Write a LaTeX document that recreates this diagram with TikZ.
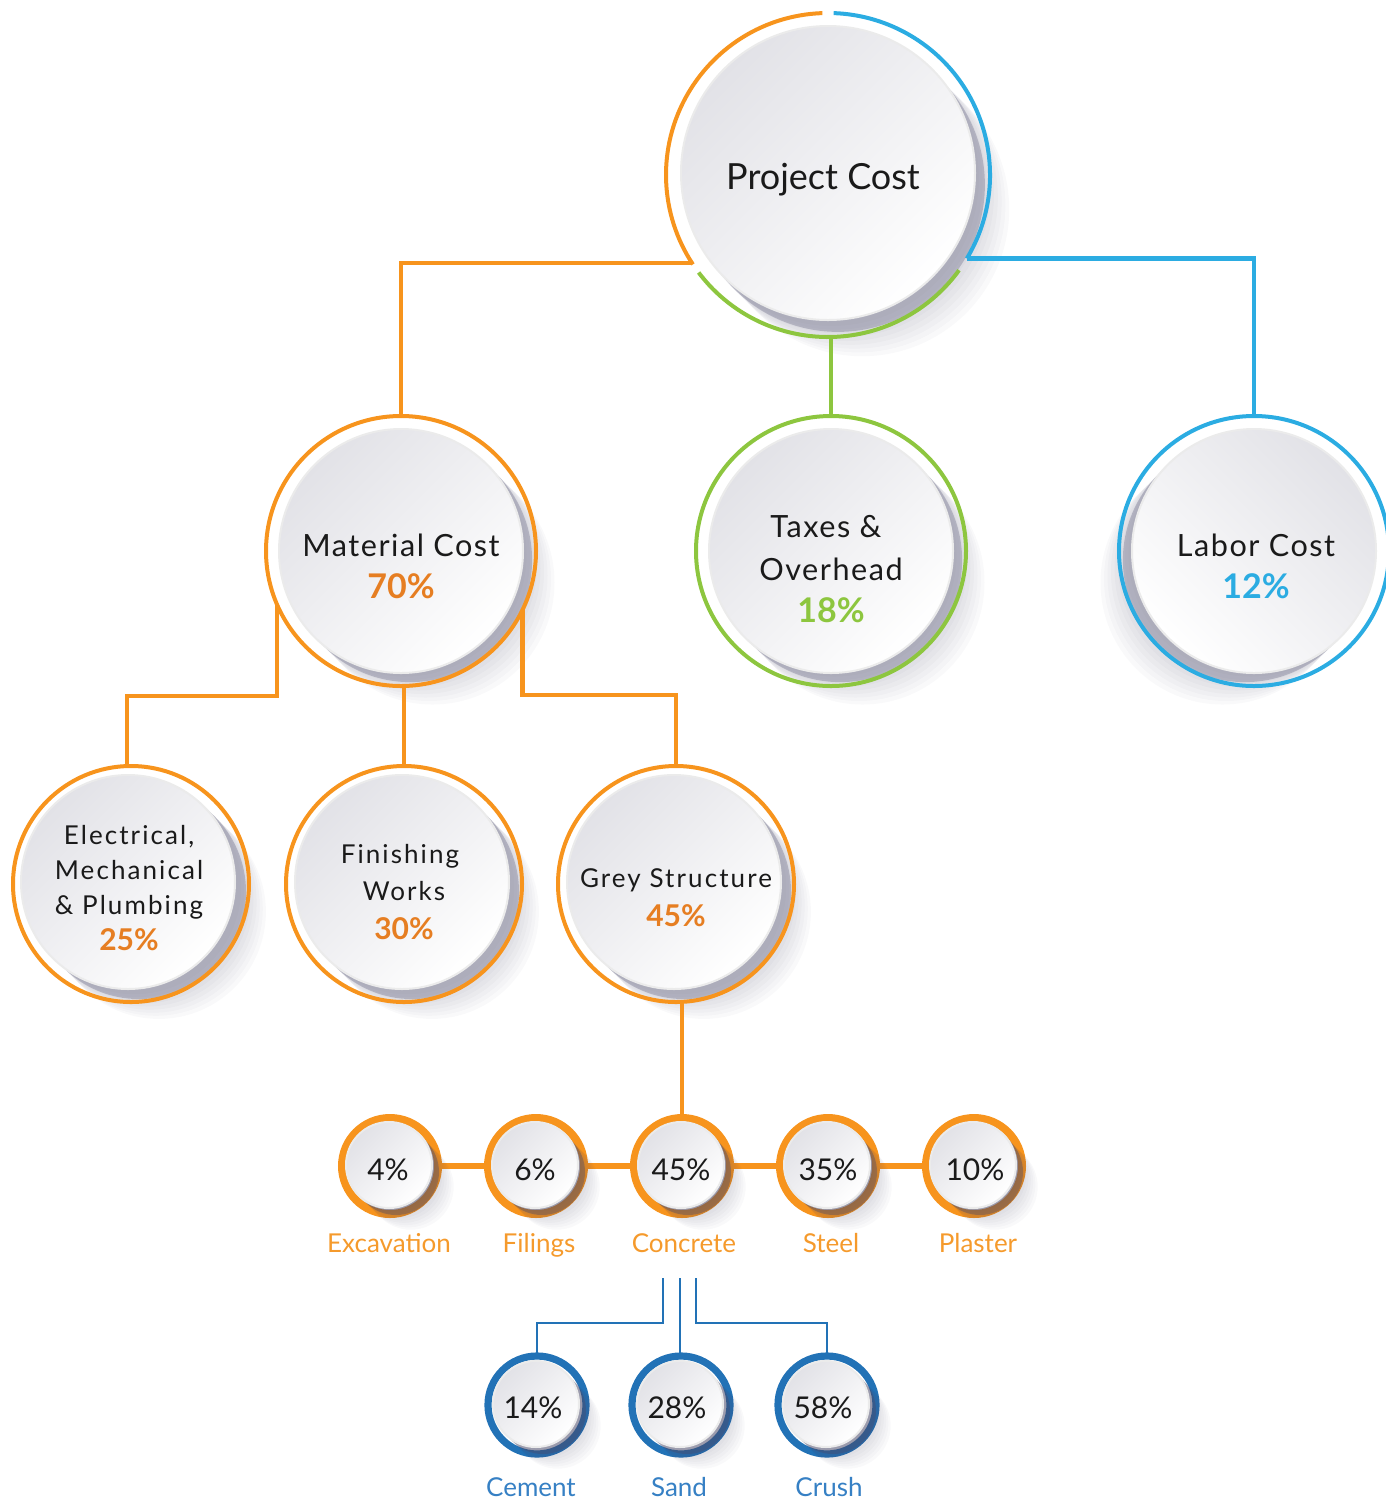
\documentclass[tikz,border=0pt]{standalone}
\usepackage{fontspec}
\setmainfont{Lato}
\newfontfamily\spacedA[LetterSpace=5]{Lato}
\newfontfamily\spacedB[LetterSpace=8]{Lato}
\usetikzlibrary{calc}

\definecolor{corange}{HTML}{F7941D}
\definecolor{cpct}{HTML}{E67E22}
\definecolor{clab}{HTML}{F59A2C}
\definecolor{cgreen}{HTML}{8DC63F}
\definecolor{cblue}{HTML}{2BACE2}
\definecolor{cdblue}{HTML}{2272B6}
\definecolor{cblab}{HTML}{3680C4}
\definecolor{ink}{HTML}{1A1A1A}
\definecolor{shadec}{HTML}{4A4A6A}
\definecolor{discA}{HTML}{E2E2E7}

% soft cast shadow: #1 centre, #2 radius, #3 x direction, #4 crescent opacity, #5 step
\newcommand\castshadow[5]{%
  \foreach \k in {1,...,9}{\fill[shadec, opacity=0.03] ($(#1)+(#3*\k*#5,\k*#5)$) circle[radius=#2];}%
  \fill[shadec, opacity=#4] ($(#1)+(#3*2.6*#5,2.6*#5)$) circle[radius=#2];%
}

\begin{document}
\begin{tikzpicture}[x=0.5pt, y=-0.5pt,
  ringbase/.style={circle, inner sep=0pt, outer sep=0pt},
  bigring/.style={ringbase, minimum size=135pt, line width=2pt},
  midring/.style={ringbase, minimum size=118pt, line width=2pt},
  smallring/.style={ringbase, minimum size=48pt, line width=4pt, draw=corange},
  blring/.style={ringbase, minimum size=49pt, line width=3.6pt, draw=cdblue},
  disc/.style={circle, inner sep=0pt, outer sep=0pt, draw=white!92!black, line width=1pt,
    top color=discA, bottom color=white, shading angle=45},
  discL/.style={disc, shading angle=-45},
  link/.style={line width=2.2pt},
  slink/.style={line width=3pt, corange},
  blink/.style={line width=1.2pt, cdblue},
  title/.style={font=\fontsize{18}{20}\selectfont, text=ink, anchor=base, inner sep=0pt},
  head/.style={font=\spacedA\fontsize{15.3}{18}\selectfont, text=ink, anchor=base, inner sep=0pt},
  mid/.style={font=\spacedB\fontsize{13}{16}\selectfont, text=ink, anchor=base, inner sep=0pt},
  bpct/.style={font=\fontsize{17}{19}\selectfont\bfseries, anchor=base, inner sep=0pt},
  mpct/.style={font=\fontsize{15}{17}\selectfont\bfseries, text=cpct, anchor=base, inner sep=0pt},
  spct/.style={font=\fontsize{15}{18}\selectfont, text=ink, anchor=base, inner sep=0pt},
  lab/.style={font=\fontsize{13}{15}\selectfont, anchor=base, inner sep=0pt}]

\path[use as bounding box] (0,0) rectangle (1386,1501);

% centres
\coordinate (cPC) at (828,175);
\coordinate (cMC) at (401,551);
\coordinate (cTX) at (831,551);
\coordinate (cLC) at (1254,551);
\coordinate (cEP) at (131,884);
\coordinate (cFW) at (404,884);
\coordinate (cGS) at (676,884);
\coordinate (cEX) at (390,1166);
\coordinate (cFI) at (536,1166);
\coordinate (cCO) at (682,1166);
\coordinate (cST) at (828,1166);
\coordinate (cPL) at (974,1166);
\coordinate (cCE) at (537,1405);
\coordinate (cSA) at (681,1405);
\coordinate (cCR) at (827,1405);

% small rings (under their shadows)
\foreach \n in {EX,FI,CO,ST,PL}{\node[smallring] (r\n) at (c\n) {};}
\foreach \n in {CE,SA,CR}{\node[blring] (r\n) at (c\n) {};}
\draw[slink] (rEX.east) -- (rFI.west);
\draw[slink] (rFI.east) -- (rCO.west);
\draw[slink] (rCO.east) -- (rST.west);
\draw[slink] (rST.east) -- (rPL.west);

% shadows
\castshadow{cPC}{147}{1}{0.28}{3.8}
\castshadow{cMC}{122}{1}{0.28}{3.5}
\castshadow{cTX}{122}{1}{0.28}{3.5}
\castshadow{cLC}{122}{-1}{0.28}{3.5}
\castshadow{cEP}{107}{1}{0.28}{3.1}
\castshadow{cFW}{107}{1}{0.28}{3.1}
\castshadow{cGS}{107}{1}{0.28}{3.1}
\foreach \n in {EX,FI,CO,ST,PL,CE,SA,CR}{\castshadow{c\n}{43}{1}{0.4}{2.3}}

% discs
\node[disc, minimum size=147pt] (dPC) at ($(cPC)+(0,-2)$) {};
\node[disc, minimum size=122pt] (dMC) at (cMC) {};
\node[disc, minimum size=122pt] (dTX) at (cTX) {};
\node[discL, minimum size=122pt] (dLC) at (cLC) {};
\node[disc, minimum size=107pt] (dEP) at ($(cEP)+(-3,-2)$) {};
\node[disc, minimum size=107pt] (dFW) at ($(cFW)+(-2,-2)$) {};
\node[disc, minimum size=107pt] (dGS) at ($(cGS)+(-2,-2)$) {};
\foreach \n in {EX,FI,CO,ST,PL,CE,SA,CR}{\node[disc, minimum size=43pt] (d\n) at ($(c\n)+(-1,-1)$) {};}

% large rings
\node[ringbase, minimum size=162pt] (pc) at (cPC) {};
\draw[corange, line width=2pt] (pc.92) arc[start angle=-92, end angle=-213.5, radius=162];
\draw[cgreen, line width=2pt] (pc.217) arc[start angle=-217, end angle=-324, radius=162];
\draw[cblue, line width=2pt] (pc.329) arc[start angle=-329, end angle=-448, radius=162];
\node[bigring, draw=corange] (mc) at (cMC) {};
\node[bigring, draw=cgreen] (tx) at (cTX) {};
\node[bigring, draw=cblue] (lc) at (cLC) {};
\node[midring, draw=corange] (ep) at (cEP) {};
\node[midring, draw=corange] (fw) at (cFW) {};
\node[midring, draw=corange] (gs) at (cGS) {};

% connectors
\draw[link, corange] (pc.213.5) -| (mc.north);
\draw[link, cgreen] (tx.north |- pc.south) -- (tx.north);
\draw[link, cblue] (pc.329) -| (lc.north);
\draw[link, corange] (mc.203.5) -- ++(0,92) -| (ep.92);
\draw[link, corange] (fw.north |- mc.south) -- (fw.north);
\draw[link, corange] (mc.-26.6) -- ++(0,85) -| (gs.north);
\draw[link, corange] (rCO.north |- gs.south) -- (rCO.north);

\coordinate (bl) at (663,1278);
\coordinate (bm) at (680,1278);
\coordinate (br) at (696,1278);
\draw[blink] (bl) -- ++(0,45) -| (rCE.north);
\draw[blink] (bm) -- (bm |- rSA.north);
\draw[blink] (br) -- ++(0,45) -| (rCR.north);

% texts
\node[title] (tPC) at (823,189) {Project Cost};

\node[head] (tMC1) at (401,556) {Material Cost};
\node[bpct, text=cpct] (tMC2) at (401,598) {70\%};
\node[head] (tTX1) at (826,537) {Taxes \&};
\node[head] (tTX2) at (831,580) {Overhead};
\node[bpct, text=cgreen] (tTX3) at (831,622) {18\%};
\node[head] (tLC1) at (1256,556) {Labor Cost};
\node[bpct, text=cblue] (tLC2) at (1256,598) {12\%};

\node[mid] (tEP1) at (129,844) {Electrical,};
\node[mid] (tEP2) at (129,879) {Mechanical};
\node[mid] (tEP3) at (129,914) {\& Plumbing};
\node[mpct] (tEP4) at (129,950) {25\%};
\node[mid] (tFW1) at (400,863) {Finishing};
\node[mid] (tFW2) at (404,900) {Works};
\node[mpct] (tFW3) at (404,939) {30\%};
\node[mid] (tGS1) at (676,887) {Grey Structure};
\node[mpct] (tGS2) at (676,926) {45\%};

\node[spct] (pEX) at (388,1180) {4\%};
\node[spct] (pFI) at (535,1180) {6\%};
\node[spct] (pCO) at (681,1180) {45\%};
\node[spct] (pST) at (828,1180) {35\%};
\node[spct] (pPL) at (975,1180) {10\%};
\node[lab, text=clab] (lEX) at (389,1252) {Excavation};
\node[lab, text=clab] (lFI) at (539,1252) {Filings};
\node[lab, text=clab] (lCO) at (684,1252) {Concrete};
\node[lab, text=clab] (lST) at (831,1252) {Steel};
\node[lab, text=clab] (lPL) at (978,1252) {Plaster};

\node[spct] (pCE) at (533,1418) {14\%};
\node[spct] (pSA) at (677,1418) {28\%};
\node[spct] (pCR) at (823,1418) {58\%};
\node[lab, text=cblab] (lCE) at (531,1496) {Cement};
\node[lab, text=cblab] (lSA) at (679,1496) {Sand};
\node[lab, text=cblab] (lCR) at (829,1496) {Crush};
\end{tikzpicture}
\end{document}
